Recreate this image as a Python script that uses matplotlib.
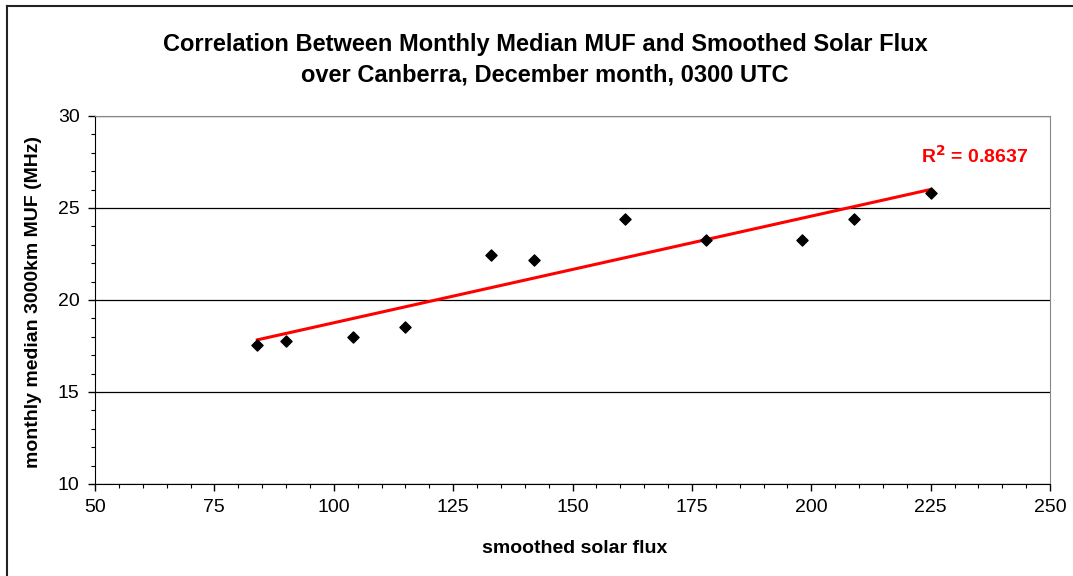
import matplotlib
matplotlib.use("Agg")
import matplotlib.pyplot as plt
import numpy as np
from matplotlib.lines import Line2D
from matplotlib.ticker import MultipleLocator

plt.rcParams['font.family'] = ['Liberation Sans', 'DejaVu Sans']

solar_flux = [84, 90, 104, 115, 133, 142, 161, 178, 198, 209, 225]
muf = [17.55, 17.77, 18.0, 18.55, 22.46, 22.15, 24.4, 23.27, 23.27, 24.4, 25.8]
r2_label = "R$^\\mathbf{2}$ = 0.8637"

fig = plt.figure(figsize=(10.73, 5.76), dpi=100)
ax = fig.add_axes([95 / 1073, 1 - 484 / 576, 955 / 1073, 368 / 576])

# trend line
coef = np.polyfit(solar_flux, muf, 1)
xs = np.array([min(solar_flux), max(solar_flux)])
ax.plot(xs, np.polyval(coef, xs), color='#ff0000', lw=2.2, zorder=3)

ax.scatter(solar_flux, muf, marker='D', s=32, color='black', zorder=4)

ax.set_xlim(50, 250)
ax.set_ylim(10, 30)
ax.xaxis.set_major_locator(MultipleLocator(25))
ax.xaxis.set_minor_locator(MultipleLocator(5))
ax.yaxis.set_major_locator(MultipleLocator(5))
ax.yaxis.set_minor_locator(MultipleLocator(1))
ax.tick_params(which='major', direction='out', length=5, width=1, labelsize=14, pad=6)
ax.tick_params(which='minor', direction='out', length=3, width=0.8)
ax.grid(axis='y', which='major', color='black', lw=0.9)

for s in ['top', 'right']:
    ax.spines[s].set_color('#888888')
for s in ['left', 'bottom']:
    ax.spines[s].set_color('black')

ax.set_xlabel("smoothed solar flux", fontsize=14, fontweight='bold')
ax.set_ylabel("monthly median 3000km MUF (MHz)", fontsize=14, fontweight='bold')
ax.xaxis.set_label_coords(0.502, -0.152)
ax.yaxis.set_label_coords(-0.0555, 0.495)

ax.text(223, 27.45, r2_label, color='#ff0000', fontsize=14, fontweight='bold',
        ha='left', va='baseline')

fig.text(545 / 1073, 1 - 45 / 576,
         "Correlation Between Monthly Median MUF and Smoothed Solar Flux",
         ha='center', va='center', fontsize=17, fontweight='bold')
fig.text(545 / 1073, 1 - 75 / 576, "over Canberra, December month, 0300 UTC",
         ha='center', va='center', fontsize=17, fontweight='bold')

# outer chart border (left and top only visible)
fig.add_artist(Line2D([7 / 1073, 7 / 1073], [0, 1 - 6 / 576], color='#222222', lw=1.5,
                      transform=fig.transFigure))
fig.add_artist(Line2D([7 / 1073, 1], [1 - 6 / 576, 1 - 6 / 576], color='#222222', lw=1.5,
                      transform=fig.transFigure))

fig.savefig("out.png", dpi=100)
